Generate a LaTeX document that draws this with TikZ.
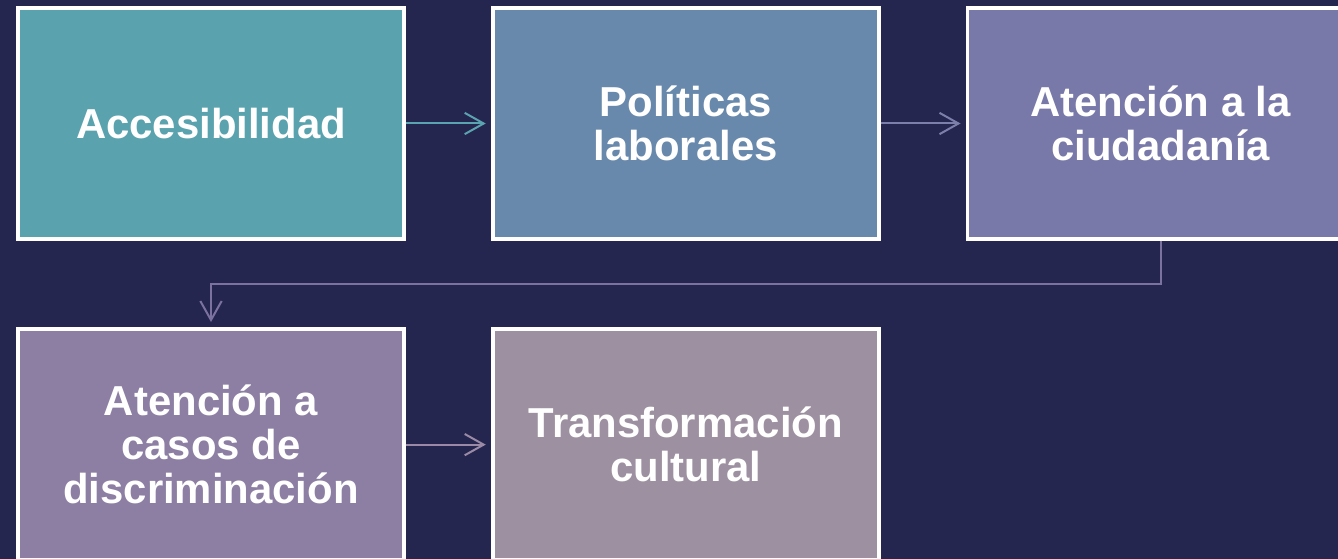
\documentclass[tikz,border=0pt]{standalone}
\usepackage{fontspec}
\setmainfont{Liberation Sans}
\usetikzlibrary{positioning, arrows.meta}

\definecolor{bgnavy}{HTML}{25264F}
\definecolor{stepA}{HTML}{5AA3AE}
\definecolor{stepB}{HTML}{6889AB}
\definecolor{stepC}{HTML}{7878A9}
\definecolor{stepD}{HTML}{8D7FA3}
\definecolor{stepE}{HTML}{9D90A0}
\definecolor{linkA}{HTML}{5AA3B0}
\definecolor{linkB}{HTML}{7B7FA9}
\definecolor{linkC}{HTML}{7B72A0}
\definecolor{linkD}{HTML}{9A8AA6}

\begin{document}
\begin{tikzpicture}[
        x=0.75pt, y=-0.75pt,
        >={Straight Barb[length=14.25pt, width=16pt]},
        box/.style={draw=white, line width=2.6pt, minimum width=289.5pt, minimum height=173.25pt,
            inner sep=0pt, align=center, text=white, font=\fontsize{31.4}{33}\selectfont\bfseries},
        link/.style={->, line width=1.5pt, shorten >=4pt},
    ]

        % Background and page size
        \useasboundingbox (0,0) rectangle (1338,559);
        \fill[bgnavy] (0,0) rectangle (1338,559);

        % Draw the first row of boxes
        \node[box, fill=stepA] (box1) at (211,123.5) {Accesibilidad};
        \node[box, fill=stepB, right=64pt of box1] (box2) {Políticas\\laborales};
        \node[box, fill=stepC, right=64pt of box2] (box3) {Atención a la\\ciudadanía};

        % Draw the second row of boxes
        \node[box, fill=stepD, below=65pt of box1] (box4) {Atención a\\casos de\\discriminación};
        \node[box, fill=stepE, right=64pt of box4] (box5) {Transformación\\cultural};

        % Connect the boxes
        \draw[link, linkA] (box1) -- (box2);
        \draw[link, linkB] (box2) -- (box3);
        \draw[link, linkC] (box3.south) -- ++(0,43) -| (box4.north);
        \draw[link, linkD] (box4) -- (box5);
\end{tikzpicture}
\end{document}
